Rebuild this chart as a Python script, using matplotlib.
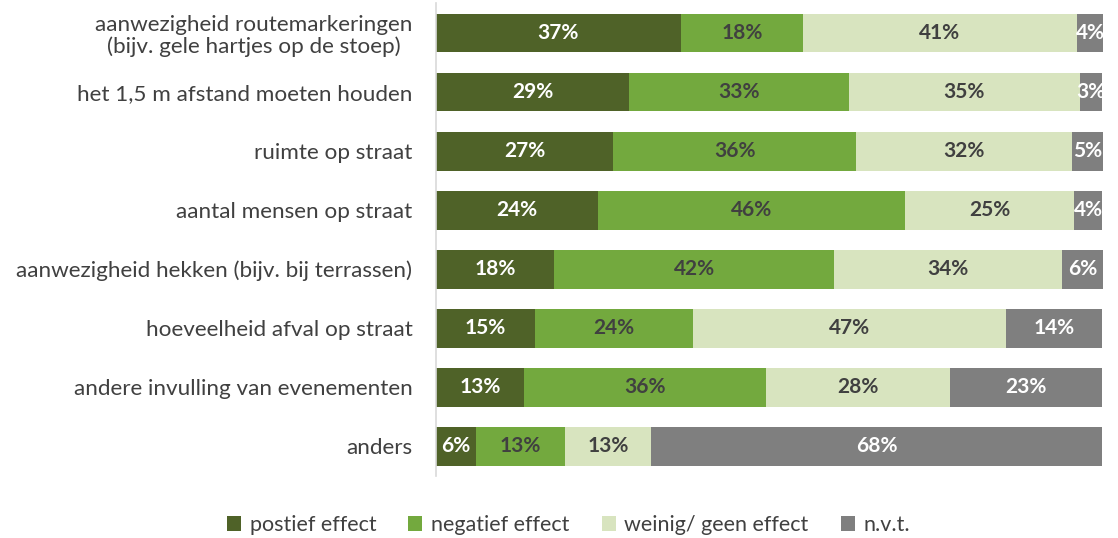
import matplotlib
matplotlib.use("Agg")
import matplotlib.pyplot as plt
from matplotlib.patches import Patch

plt.rcParams['font.family'] = ['Lato', 'DejaVu Sans']

categories = [
    "aanwezigheid routemarkeringen\n(bijv. gele hartjes op de stoep)",
    "het 1,5 m afstand moeten houden",
    "ruimte op straat",
    "aantal mensen op straat",
    "aanwezigheid hekken (bijv. bij terrassen)",
    "hoeveelheid afval op straat",
    "andere invulling van evenementen",
    "anders",
]
series_names = ["postief effect", "negatief effect", "weinig/ geen effect", "n.v.t."]
postief = [36.7, 28.9, 26.6, 24.3, 17.7, 14.8, 13.2, 6.0]
negatief = [18.3, 33.0, 36.3, 46.0, 42.0, 23.7, 36.2, 13.3]
weinig = [41.1, 34.6, 32.4, 25.4, 34.2, 46.9, 27.6, 13.0]
nvt = [3.9, 3.4, 4.8, 4.2, 6.1, 14.4, 22.9, 67.6]

colors = ["#4F6228", "#73A93E", "#D8E4BF", "#7F7F7F"]
text_colors = ["white", "#404040", "#404040", "white"]

fig = plt.figure(figsize=(11.18, 5.38), dpi=100)
ax = fig.add_axes([0.39, 0.116, 0.5966, 0.8775])

ypos = list(range(len(categories)))
left = [0.0] * len(categories)
for vals, col, tcol in zip([postief, negatief, weinig, nvt], colors, text_colors):
    bars = ax.barh(ypos, vals, left=left, height=0.66, color=col, edgecolor="none")
    for b, v in zip(bars, vals):
        ax.text(b.get_x() + b.get_width() / 2, b.get_y() + b.get_height() / 2,
                f"{v:.0f}%", ha="center", va="center", color=tcol,
                fontsize=15, fontweight="bold", clip_on=False)
    left = [l + v for l, v in zip(left, vals)]

ax.set_xlim(0, 100)
ax.set_ylim(len(categories) - 0.5, -0.5)
ax.set_yticks(ypos)
ax.set_yticklabels(categories, fontsize=16.2, color="#404040", ha="right",
                   multialignment="center", linespacing=1.1)
ax.tick_params(axis="y", length=0, pad=17)
ax.set_xticks([])
for s in ["top", "right", "bottom"]:
    ax.spines[s].set_visible(False)
ax.spines["left"].set_color("#D9D9D9")
ax.spines["left"].set_linewidth(1.2)

handles = [Patch(facecolor=c, edgecolor="none") for c in colors]
fig.legend(handles, series_names, loc="center", bbox_to_anchor=(0.5085, 0.024),
           ncol=4, frameon=False, fontsize=15.5, handlelength=0.65, handleheight=0.65,
           handletextpad=0.4, columnspacing=1.5, labelcolor="#404040")

fig.savefig("out.png", dpi=100)
